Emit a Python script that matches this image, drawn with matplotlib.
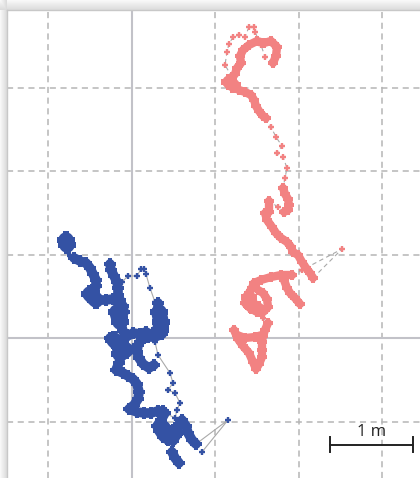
import numpy as np
import matplotlib
matplotlib.use("Agg")
import matplotlib.pyplot as plt

# trajectories (image px, 83.5 px per metre,
# origin where the two solid axes cross at px (132, 338))
PX_PER_M = 83.5
ORIGIN = (132, 338)

# each track is a list of runs: (kind, points)
# 'dense' = packed samples, 'blob' = very packed samples, 'sparse' = single fixes
red_track = [
    ("sparse", [(232, 77), (225, 65), (227, 52), (229, 44), (233, 37), (239, 35), (245, 37),
                (249, 27), (254, 27), (255, 32), (261, 45), (265, 57)]),
    ("dense", [(273, 63), (276, 56), (277, 47), (271, 41), (264, 43), (257, 41), (249, 45),
               (243, 50), (240, 56), (241, 63), (237, 68), (235, 74), (230, 80), (227, 83),
               (233, 87), (239, 90), (245, 92), (251, 95), (254, 100), (256, 106), (259, 111),
               (263, 116), (266, 118)]),
    ("sparse", [(271, 127), (276, 137), (282, 146), (277, 153), (283, 157), (287, 168), (285, 178)]),
    ("dense", [(283, 188), (285, 194), (288, 199), (289, 205), (288, 210), (284, 212)]),
    ("sparse", [(278, 207)]),
    ("dense", [(269, 201), (269, 212), (265, 213), (267, 220), (272, 227), (276, 233), (281, 238),
               (287, 242), (291, 247), (293, 252), (298, 255), (302, 262), (306, 268), (310, 273),
               (313, 278)]),
    ("sparse", [(342, 249), (302, 270), (293, 276)]),
    ("dense", [(292, 275), (281, 275), (271, 277), (261, 280), (254, 283), (252, 288), (249, 293),
               (246, 298), (245, 303), (250, 308), (257, 312), (263, 312)]),
    ("sparse", [(263, 318)]),
    ("dense", [(268, 323), (265, 330), (263, 336), (262, 342), (262, 350), (262, 357), (259, 364),
               (256, 369), (253, 362), (249, 353), (243, 346), (238, 339), (234, 330)]),
    ("dense", [(237, 335), (245, 338), (255, 337), (262, 335)]),
    ("dense", [(263, 312), (268, 307), (267, 299), (263, 293), (258, 290)]),
    ("dense", [(281, 276), (284, 280), (287, 288), (290, 293), (295, 298), (300, 304)]),
    ("blob", [(249, 297), (252, 306), (258, 309)]),
    ("blob", [(229, 82), (233, 85)]),
]

blue_track = [
    ("blob", [(66, 240), (67, 245)]),
    ("sparse", [(68, 252), (70, 256)]),
    ("dense", [(74, 258), (80, 261), (86, 263), (90, 268), (93, 274), (96, 280), (96, 286),
               (94, 292), (93, 298), (99, 300), (106, 300), (113, 299), (119, 301), (123, 306),
               (124, 312), (122, 318), (121, 324), (123, 331), (126, 337)]),
    ("dense", [(162, 334), (155, 337), (148, 337), (142, 335), (140, 342)]),
    ("dense", [(110, 338), (115, 343), (120, 349), (121, 356), (119, 363), (116, 370), (123, 373),
               (128, 376), (133, 379), (137, 384), (139, 392), (138, 399), (134, 405), (129, 409),
               (137, 412), (144, 413), (151, 413), (158, 411), (163, 411)]),
    ("dense", [(126, 337), (133, 333), (140, 334), (146, 332), (152, 335), (158, 333), (162, 330)]),
    ("dense", [(138, 345), (137, 352), (139, 358), (143, 364), (149, 368), (154, 365)]),
    ("blob", [(90, 294), (96, 300)]),
    ("blob", [(114, 340), (120, 346), (120, 354), (126, 350)]),
    ("blob", [(159, 312), (161, 322), (160, 330)]),
    ("blob", [(163, 428), (168, 436), (174, 433)]),
    ("blob", [(117, 312), (120, 322)]),
    ("dense", [(172, 452), (175, 458), (179, 463)]),
    ("dense", [(110, 264), (111, 270), (114, 276), (117, 282), (118, 288), (118, 295), (120, 300)]),
    ("sparse", [(122, 282), (128, 276), (137, 276), (141, 269), (144, 269), (146, 274), (150, 288),
                (155, 302)]),
    ("dense", [(158, 303), (158, 311), (161, 319), (163, 327), (162, 334)]),
    ("sparse", [(155, 342), (158, 355), (170, 373), (173, 383), (168, 390), (175, 393), (180, 403),
                (177, 410), (175, 418)]),
    ("dense", [(165, 413), (161, 420), (157, 426), (159, 431), (163, 437), (168, 440), (173, 441),
               (176, 436), (176, 430), (179, 424), (182, 420), (186, 426), (188, 433), (192, 440),
               (196, 444)]),
    ("sparse", [(228, 420), (202, 452)]),
]

red_color = "#f28282"
blue_color = "#3452a4"

grid_x = [-1, 1, 2, 3]
grid_y = [-1, 1, 2, 3]
scale_bar_m = (2.37, 3.365, -1.28)   # x0, x1, y in metres
scale_label = "1 m"


def to_m(points):
    arr = np.array(points, dtype=float)
    x = (arr[:, 0] - ORIGIN[0]) / PX_PER_M
    y = (ORIGIN[1] - arr[:, 1]) / PX_PER_M
    return x, y


W, H = 420, 478
fig = plt.figure(figsize=(W / 100, H / 100), dpi=100)

# soft shadow above and left of the plot panel
bg = fig.add_axes([0, 0, 1, 1])
shade = np.ones((H, W))
for r in range(10):
    shade[r, :] = 0.97 - 0.11 * r / 9
for c in range(7):
    shade[:, c] = np.minimum(shade[:, c], 0.97 - 0.11 * c / 6)
bg.imshow(shade, cmap="gray", vmin=0, vmax=1, aspect="auto", interpolation="bilinear")
bg.axis("off")

ax = fig.add_axes([7 / W, 0, 1 - 7 / W, 1 - 10 / H])
ax.set_xlim((7 - ORIGIN[0]) / PX_PER_M, (W - ORIGIN[0]) / PX_PER_M)
ax.set_ylim((ORIGIN[1] - H) / PX_PER_M, (ORIGIN[1] - 10) / PX_PER_M)

for gx in grid_x:
    ax.axvline(gx, color="#b5b5b5", lw=1.1, ls=(0, (4, 3)), zorder=1)
for gy in grid_y:
    ax.axhline(gy, color="#b5b5b5", lw=1.1, ls=(0, (4, 3)), zorder=1)
ax.axvline(0, color="#c2c2c8", lw=1.5, zorder=1)
ax.axhline(0, color="#c2c2c8", lw=1.5, zorder=1)


def draw_track(track, color, link_style, dense_lw):
    # thin grey links only around the sparse fixes
    for i, (kind, pts) in enumerate(track):
        if kind != "sparse":
            continue
        link = list(pts)
        if i > 0:
            link = [track[i - 1][1][-1]] + link
        if i + 1 < len(track):
            link = link + [track[i + 1][1][0]]
        x, y = to_m(link)
        ax.plot(x, y, color="#a9a9a9", lw=0.8, ls=link_style, zorder=2)
    for kind, pts in track:
        x, y = to_m(pts)
        if kind == "sparse":
            ax.plot(x, y, "+", color=color, ms=5, mew=1.7, zorder=3)
        else:
            lw = dense_lw if kind == "dense" else dense_lw * 1.6
            ax.plot(x, y, color=color, lw=lw, solid_capstyle="round",
                    solid_joinstyle="round", zorder=3)
            ax.plot(x, y, "P", color=color, ms=lw + 1.5, mew=0, zorder=3)


draw_track(red_track, red_color, (0, (4, 3)), 6.0)
draw_track(blue_track, blue_color, "-", 7.0)

# scale bar
x0, x1, yb = scale_bar_m
ax.plot([x0, x1], [yb, yb], color="#222222", lw=1.4, zorder=4)
for xe in (x0, x1):
    ax.plot([xe, xe], [yb - 0.09, yb + 0.09], color="#222222", lw=1.4, zorder=4)
ax.text((x0 + x1) / 2, yb + 0.06, scale_label, ha="center", va="bottom",
        fontsize=12, color="#222222", family="Open Sans", zorder=4)

ax.set_xticks([])
ax.set_yticks([])
for side in ("right", "bottom"):
    ax.spines[side].set_visible(False)
for side in ("top", "left"):
    ax.spines[side].set_color("#c8c8c8")
    ax.spines[side].set_linewidth(1.0)

fig.savefig("out.png", dpi=100)
